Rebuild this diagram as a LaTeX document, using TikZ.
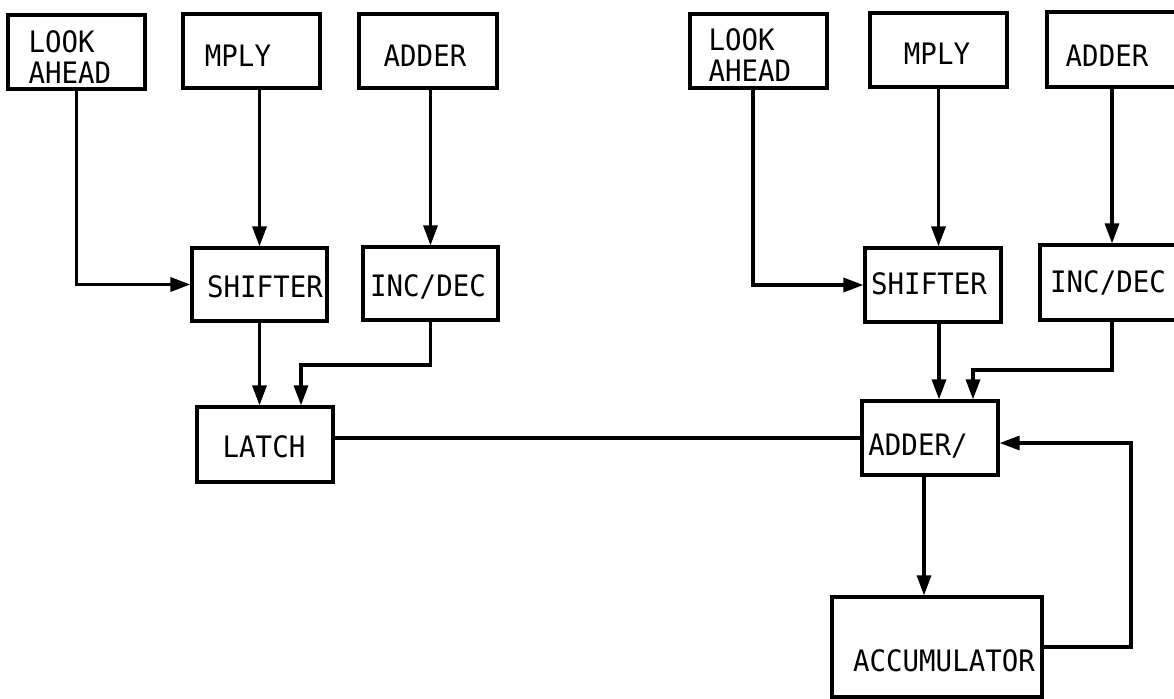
\documentclass[tikz,border=0pt]{standalone}
\usepackage{fontspec}
\newfontfamily\dfont[FakeStretch=0.93]{DejaVu Sans Mono}
\usetikzlibrary{arrows.meta,calc}
\begin{document}
\begin{tikzpicture}[x=1pt,y=-1pt,
  blk/.style={draw, line width=3.2pt, rectangle, inner sep=0pt, minimum width=137pt, minimum height=74pt},
  lbl/.style={inner sep=0pt, font=\dfont\fontsize{29.5}{31}\selectfont, align=left},
  conn/.style={line width=3.2pt},
  arr/.style={conn, -{Triangle[length=20pt,width=14pt]}}]
\useasboundingbox (0,0) rectangle (1174,698);
\clip (0,0) rectangle (1174,698);
\fill[white] (0,0) rectangle (1174,698);

% left group
\node[blk, label={[lbl,anchor=west,xshift=22pt,yshift=-5.5pt]west:LOOK\\AHEAD}] (la1) at (76.5,52) {};
\node[blk, label={[lbl,xshift=-13.5pt,yshift=-5pt]center:MPLY}] (mp1) at (251.5,51) {};
\node[blk, minimum width=138pt, label={[lbl,xshift=-3pt,yshift=-5pt]center:ADDER}] (ad1) at (428,51) {};
\node[blk, minimum width=135pt, minimum height=73pt, label={[lbl,xshift=5.5pt,yshift=-2.5pt]center:SHIFTER}] (sh1) at (259.5,284.5) {};
\node[blk, minimum width=135pt, minimum height=73pt, label={[lbl,xshift=-2.5pt,yshift=-3.5pt]center:INC/DEC}] (id1) at (430.5,283.5) {};
\node[blk, minimum width=136pt, minimum height=75pt, label={[lbl,xshift=-1pt,yshift=-2.5pt]center:LATCH}] (latch) at (265,444.5) {};

% right group
\node[blk, label={[lbl,anchor=west,xshift=20pt,yshift=-4pt]west:LOOK\\AHEAD}] (la2) at (758.5,51) {};
\node[blk, label={[lbl,xshift=-1.5pt,yshift=-4pt]center:MPLY}] (mp2) at (938.5,50) {};
\node[blk, minimum width=130pt, minimum height=75pt, label={[lbl,xshift=-5pt,yshift=-6.5pt]center:ADDER}] (ad2) at (1112,49.5) {};
\node[blk, minimum width=136pt, label={[lbl,xshift=-4pt,yshift=1pt]center:SHIFTER}] (sh2) at (933,285) {};
\node[blk, minimum width=144pt, minimum height=75pt, label={[lbl,xshift=-4pt,yshift=-0.5pt]center:INC/DEC}] (id2) at (1112,282.5) {};
\node[blk, minimum width=136pt, label={[lbl,xshift=-12pt,yshift=-8pt]center:ADDER/}] (add2) at (930,438) {};
\node[blk, minimum width=210pt, minimum height=100pt, label={[lbl,xshift=7pt,yshift=-14pt]center:ACCUMULATOR}] (acc) at (937,647) {};

% left connectors
\draw[arr] (la1.south) |- (sh1.west);
\draw[arr] (sh1.north |- mp1.south) -- (sh1.north);
\draw[arr] (id1.north |- ad1.south) -- (id1.north);
\draw[arr] (sh1.south) -- (sh1.south |- latch.north);
\coordinate (k1) at (301,365);
\draw[arr] (id1.south) |- (k1) -- (k1 |- latch.north);

% link
\draw[conn] (latch.east |- add2.west) -- (add2.west);

% right connectors
\coordinate (p2) at ($(la2.south)+(-5.5,0)$);
\draw[arr] (p2) |- (sh2.west);
\draw[arr] (mp2.south) -- (mp2.south |- sh2.north);
\draw[arr] (ad2.south) -- (ad2.south |- id2.north);
\coordinate (q2) at ($(sh2.south)+(6,0)$);
\draw[arr] (q2) -- (q2 |- add2.north);
\coordinate (k2) at (973,370);
\draw[arr] (id2.south) |- (k2) -- (k2 |- add2.north);
\coordinate (s2) at ($(add2.south)+(-6,0)$);
\draw[arr] (s2) -- (s2 |- acc.north);
\coordinate (r2) at (1131,443);
\draw[arr] (acc.east) -| (r2) -- (r2 -| add2.east);
\end{tikzpicture}
\end{document}
